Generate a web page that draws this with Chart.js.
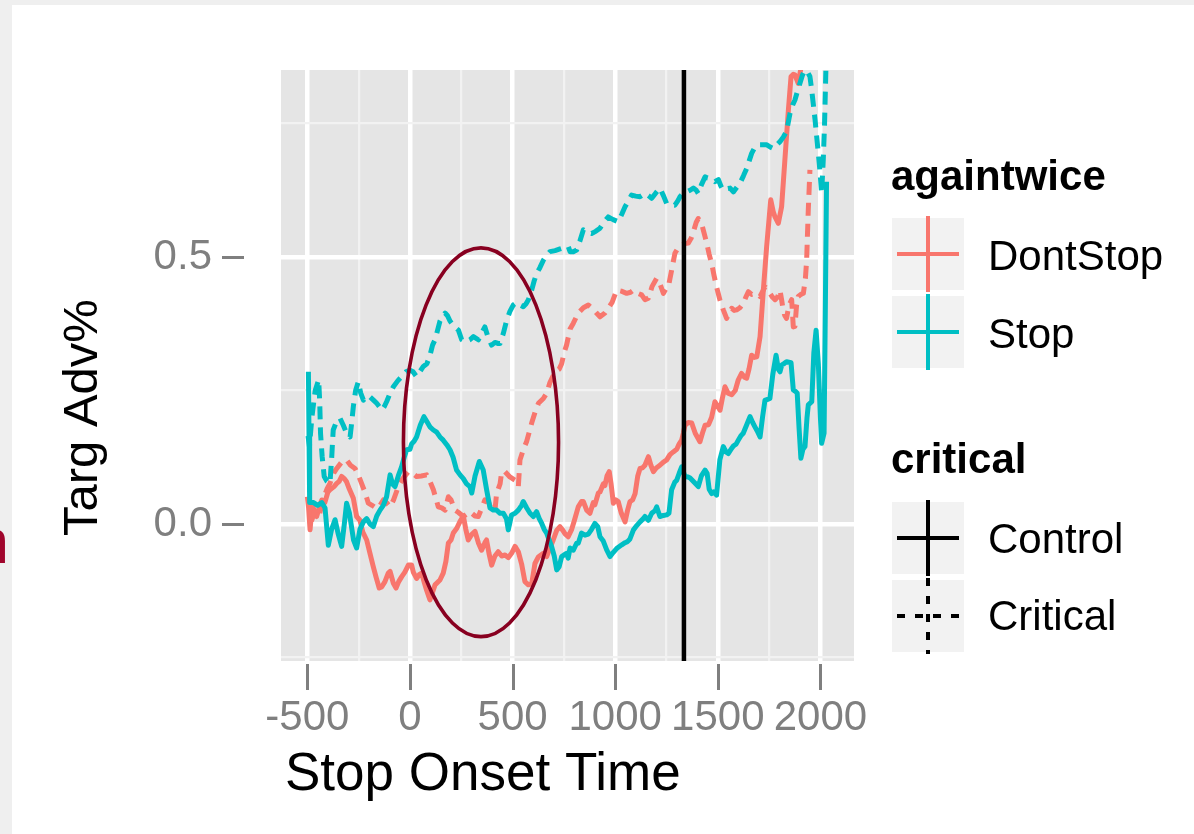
<!DOCTYPE html>
<html>
<head>
<meta charset="utf-8">
<script src="https://cdn.jsdelivr.net/npm/chart.js@4.4.1/dist/chart.umd.min.js"></script>
<style>
  html, body { margin: 0; padding: 0; }
  body { width: 1194px; height: 834px; background: #efefef; position: relative; overflow: hidden;
         font-family: "Liberation Sans", Arial, sans-serif; }
  #card { position: absolute; left: 12px; top: 5px; right: 0; bottom: 0; background: #fff; }
  #edge { position: absolute; left: -26px; top: 510px; font-size: 63px; line-height: 63px; color: #a0052c; }
  #plot { position: absolute; left: 0; top: 0; }
</style>
</head>
<body>
<div id="card"></div>
<div id="edge">n</div>
<canvas id="plot" width="1194" height="834"></canvas>
<script>
// axis ticks
var xMajorTicks = [-500, 0, 500, 1000, 1500, 2000];
var xTickLabels = ["-500", "0", "500", "1000", "1500", "2000"];
var xMinorTicks = [-250, 250, 750, 1250, 1750];
var yMajorTicks = [0, 0.5];
var yTickLabels = ["0.0", "0.5"];
var yMinorTicks = [-0.25, 0.25, 0.75];

// againtwice = DontStop, critical = Control (solid)
var dontStopControlT = [-500,-494,-487,-480,-474,-465,-455,-443,-430,-415,-400,-390,-370,-357,-345,-333,-320,-309,-295,-276,-260,-244,-230,-211,-195,-179,-165,-150,-138,-122,-106,-97,-81,-68,-55,-41,-25,-8,8,16,32,45,57,70,81,97,110,122,146,162,175,187,200,211,228,244,260,272,284,300,317,333,349,365,373,385,398,414,430,447,463,479,495,512,528,544,560,577,593,609,625,650,666,682,698,715,731,745,755,771,788,800,820,836,845,861,877,893,901,918,926,942,950,960,971,980,991,1003,1015,1030,1048,1060,1072,1085,1097,1110,1121,1133,1145,1162,1174,1186,1200,1218,1235,1251,1267,1283,1300,1312,1324,1332,1340,1356,1373,1390,1413,1425,1438,1455,1470,1486,1500,1511,1522,1535,1550,1568,1585,1600,1616,1630,1641,1652,1665,1678,1690,1706,1722,1738,1758,1770,1779,1795,1811,1827,1844,1857,1868,1876,1892,1908,1925];
var dontStopControlV = [0.051,0.03,-0.011,0.02,0.035,0.02,0.014,0.03,0.045,0.04,0.06,0.064,0.07,0.076,0.08,0.089,0.085,0.079,0.065,0.048,0.014,0.007,-0.015,-0.03,-0.055,-0.08,-0.1,-0.12,-0.118,-0.108,-0.092,-0.089,-0.111,-0.12,-0.108,-0.099,-0.09,-0.077,-0.077,-0.09,-0.102,-0.095,-0.092,-0.11,-0.124,-0.142,-0.128,-0.114,-0.105,-0.092,-0.07,-0.036,-0.03,-0.017,-0.008,0.005,0.015,-0.01,-0.03,-0.02,-0.014,-0.035,-0.049,-0.035,-0.03,-0.055,-0.077,-0.06,-0.052,-0.06,-0.058,-0.063,-0.055,-0.042,-0.052,-0.075,-0.108,-0.114,-0.112,-0.074,-0.062,-0.055,-0.061,-0.045,-0.03,-0.012,-0.005,-0.012,-0.018,-0.024,-0.01,0.005,0.032,0.042,0.042,0.026,0.02,0.04,0.036,0.058,0.06,0.075,0.072,0.09,0.098,0.075,0.039,0.045,0.042,0.02,0.004,0.025,0.042,0.045,0.057,0.09,0.104,0.105,0.11,0.126,0.11,0.098,0.105,0.11,0.116,0.12,0.13,0.135,0.14,0.15,0.157,0.17,0.185,0.19,0.189,0.17,0.154,0.17,0.185,0.186,0.2,0.229,0.22,0.213,0.235,0.257,0.245,0.242,0.25,0.27,0.282,0.275,0.273,0.29,0.316,0.312,0.313,0.351,0.438,0.519,0.607,0.585,0.575,0.563,0.594,0.682,0.775,0.838,0.842,0.841,0.825,0.86,0.95];

// DontStop, Critical (dashed)
var dontStopCriticalT = [-480,-460,-440,-420,-405,-390,-372,-357,-335,-320,-309,-290,-268,-250,-236,-220,-203,-185,-162,-146,-130,-114,-97,-80,-57,-35,-8,12,32,55,81,97,114,138,155,171,187,200,219,235,260,292,317,333,350,365,382,398,414,422,439,447,463,487,512,528,536,553,569,593,610,626,650,666,682,707,727,739,752,763,780,796,820,845,869,885,909,926,950,966,985,1007,1030,1056,1075,1089,1110,1129,1145,1162,1180,1202,1218,1235,1247,1259,1275,1291,1308,1324,1340,1356,1370,1381,1395,1405,1421,1433,1446,1458,1470,1482,1494,1510,1527,1543,1555,1568,1580,1592,1608,1624,1637,1649,1665,1681,1695,1706,1718,1730,1742,1754,1766,1779,1791,1803,1811,1819,1827,1835,1847,1860,1868,1876,1884,1892,1905,1917,1927,1933,1941,1949];
var dontStopCriticalV = [0.005,0.03,0.02,0.05,0.065,0.076,0.095,0.104,0.115,0.12,0.12,0.11,0.104,0.09,0.076,0.06,0.039,0.035,0.029,0.035,0.045,0.04,0.032,0.045,0.07,0.085,0.098,0.095,0.089,0.09,0.092,0.08,0.064,0.032,0.03,0.026,0.051,0.045,0.026,0.022,0.014,0.023,0.015,0.014,0.03,0.045,0.042,0.026,0.025,0.057,0.075,0.098,0.098,0.088,0.082,0.07,0.12,0.14,0.155,0.189,0.21,0.226,0.235,0.245,0.265,0.285,0.29,0.3,0.322,0.335,0.365,0.376,0.395,0.405,0.41,0.405,0.395,0.388,0.395,0.404,0.415,0.438,0.436,0.432,0.434,0.438,0.432,0.429,0.42,0.423,0.445,0.46,0.45,0.432,0.44,0.444,0.475,0.507,0.518,0.522,0.525,0.526,0.535,0.547,0.565,0.572,0.563,0.545,0.526,0.505,0.488,0.465,0.444,0.42,0.401,0.385,0.395,0.404,0.4,0.401,0.405,0.413,0.425,0.435,0.43,0.432,0.43,0.426,0.435,0.444,0.44,0.432,0.425,0.42,0.425,0.438,0.42,0.4,0.39,0.385,0.41,0.42,0.369,0.37,0.41,0.426,0.43,0.432,0.46,0.494,0.588,0.663];

// Stop, Control (solid)
var stopControlT = [-495,-492,-490,-488,-470,-450,-430,-414,-398,-382,-365,-349,-333,-320,-309,-295,-275,-260,-244,-227,-211,-195,-179,-162,-146,-130,-114,-97,-85,-73,-57,-41,-28,-16,0,8,20,32,50,68,85,97,114,130,146,162,180,195,210,227,244,260,276,292,301,317,338,357,373,390,406,422,439,455,470,479,495,512,528,544,552,569,585,601,617,630,642,654,666,678,690,703,715,727,739,751,763,771,780,796,812,820,836,853,869,885,901,915,926,942,958,975,991,1007,1032,1048,1060,1072,1089,1105,1121,1137,1145,1162,1178,1194,1202,1218,1235,1251,1262,1275,1290,1300,1312,1324,1340,1355,1365,1385,1405,1420,1438,1448,1458,1470,1480,1494,1510,1527,1540,1551,1565,1576,1590,1600,1612,1624,1640,1657,1670,1681,1695,1706,1718,1730,1742,1754,1768,1784,1795,1803,1812,1822,1835,1857,1868,1880,1887,1896,1905,1915,1925,1935,1941,1958,1968,1979,1990,2000,2006,2018,2024,2030];
var stopControlV = [0.285,0.16,0.175,0.04,0.04,0.035,0.04,0.03,-0.04,-0.01,0.008,-0.02,-0.042,0.0,0.039,0.02,-0.03,-0.045,-0.01,0.004,0.01,0.0,-0.005,0.015,0.026,0.035,0.051,0.092,0.075,0.07,0.09,0.107,0.125,0.139,0.14,0.15,0.155,0.163,0.185,0.201,0.19,0.182,0.176,0.172,0.163,0.157,0.148,0.139,0.125,0.101,0.092,0.085,0.075,0.07,0.058,0.09,0.117,0.101,0.065,0.03,0.026,0.026,0.02,0.02,0.01,-0.011,0.017,0.02,0.026,0.035,0.042,0.03,0.02,0.014,0.023,0.01,0.001,-0.01,-0.017,-0.03,-0.042,-0.06,-0.086,-0.08,-0.061,-0.058,-0.055,-0.064,-0.045,-0.049,-0.036,-0.036,-0.017,-0.021,-0.019,-0.01,0.001,-0.005,-0.024,-0.032,-0.048,-0.061,-0.053,-0.046,-0.039,-0.035,-0.033,-0.028,-0.011,-0.003,0.004,0.01,0.014,0.007,0.02,0.025,0.032,0.014,0.016,0.017,0.02,0.064,0.078,0.082,0.095,0.107,0.089,0.088,0.086,0.078,0.07,0.09,0.101,0.095,0.065,0.057,0.06,0.054,0.12,0.145,0.135,0.132,0.14,0.146,0.15,0.157,0.165,0.17,0.185,0.201,0.19,0.182,0.172,0.163,0.2,0.232,0.233,0.235,0.28,0.316,0.29,0.285,0.298,0.3,0.304,0.302,0.251,0.248,0.245,0.18,0.123,0.14,0.145,0.2,0.223,0.229,0.32,0.363,0.3,0.2,0.151,0.17,0.4,0.641];

// Stop, Critical (dashed)
var stopCriticalT = [-497,-490,-478,-462,-445,-440,-436,-428,-418,-405,-390,-386,-382,-378,-374,-360,-341,-325,-309,-292,-284,-276,-265,-252,-240,-227,-210,-195,-178,-162,-150,-138,-125,-114,-97,-81,-60,-41,-20,0,15,32,48,65,82,97,110,122,134,146,160,171,183,195,215,236,252,268,292,309,333,349,365,380,398,414,430,439,455,470,487,503,520,536,552,565,577,593,605,617,633,650,666,682,707,731,755,771,780,796,812,828,845,865,885,905,926,945,966,990,1015,1032,1048,1064,1080,1100,1121,1145,1162,1178,1198,1218,1235,1251,1270,1291,1305,1316,1332,1348,1365,1381,1395,1405,1420,1438,1450,1462,1474,1486,1503,1515,1527,1545,1560,1576,1592,1608,1625,1641,1653,1665,1680,1698,1718,1739,1755,1771,1787,1803,1820,1835,1845,1852,1865,1876,1888,1900,1912,1925,1938,1949,1957,1965,1974,1982,1990,1998,2006,2014,2020,2026,2030];
var stopCriticalV = [0.165,0.145,0.2,0.25,0.27,0.23,0.17,0.126,0.089,0.08,0.076,0.1,0.12,0.15,0.176,0.19,0.198,0.185,0.17,0.163,0.19,0.22,0.25,0.266,0.245,0.232,0.24,0.238,0.232,0.226,0.22,0.213,0.22,0.229,0.245,0.257,0.268,0.276,0.285,0.288,0.285,0.276,0.285,0.295,0.3,0.315,0.335,0.345,0.362,0.38,0.39,0.395,0.39,0.38,0.37,0.363,0.345,0.341,0.345,0.351,0.345,0.357,0.369,0.35,0.335,0.34,0.338,0.338,0.357,0.38,0.398,0.41,0.415,0.41,0.407,0.412,0.42,0.438,0.455,0.469,0.48,0.494,0.503,0.51,0.512,0.515,0.518,0.52,0.51,0.51,0.513,0.53,0.551,0.546,0.544,0.548,0.554,0.565,0.575,0.57,0.566,0.58,0.594,0.605,0.616,0.614,0.613,0.619,0.615,0.61,0.62,0.629,0.615,0.6,0.598,0.597,0.605,0.613,0.62,0.622,0.625,0.629,0.625,0.619,0.635,0.65,0.648,0.647,0.645,0.641,0.645,0.633,0.625,0.628,0.629,0.622,0.63,0.638,0.652,0.666,0.68,0.694,0.705,0.71,0.71,0.71,0.706,0.703,0.71,0.716,0.725,0.735,0.755,0.769,0.785,0.794,0.81,0.825,0.84,0.85,0.846,0.838,0.815,0.788,0.757,0.725,0.694,0.66,0.619,0.682,0.745,0.838,0.9];

var stopOnset = 1335;              // vertical reference line
var ellipseCenter = [346, 0.153];  // highlighted region
var ellipseRadius = [378, 0.364];

var RED = "#F8766D", CYAN = "#00BFC4", MAROON = "#880020", GREY = "#7f7f7f";
var FONT = '"Liberation Sans", Arial, sans-serif';

function toPoints(ts, vs) {
  return ts.map(function(t, i) { return { x: t, y: vs[i] }; });
}

function lineSet(label, ts, vs, color, dashed, order) {
  return {
    label: label,
    data: toPoints(ts, vs),
    borderColor: color,
    borderWidth: 5,
    borderDash: dashed ? [13, 8] : [],
    borderJoinStyle: "round",
    pointRadius: 0,
    tension: 0,
    fill: false,
    order: order
  };
}

function drawKey(c, top, color, dashed) {
  c.save();
  c.fillStyle = "#f2f2f2";
  c.fillRect(892, top, 72, 72);
  c.strokeStyle = color;
  c.lineWidth = 4;
  c.setLineDash(dashed ? [8, 10] : []);
  c.beginPath(); c.moveTo(897, top + 36); c.lineTo(959, top + 36); c.stroke();
  c.beginPath(); c.moveTo(928, top - 2); c.lineTo(928, top + 74); c.stroke();
  c.restore();
}

var ggExtras = {
  id: "ggExtras",
  beforeDraw: function(chart) {
    var a = chart.chartArea, c = chart.ctx;
    c.save();
    c.fillStyle = "#e5e5e5";
    c.fillRect(a.left, a.top, a.right - a.left, a.bottom - a.top);
    c.restore();
  },
  afterDatasetsDraw: function(chart) {
    var xs = chart.scales.x, ys = chart.scales.y, c = chart.ctx;
    var cx = xs.getPixelForValue(ellipseCenter[0]);
    var cy = ys.getPixelForValue(ellipseCenter[1]);
    var rx = xs.getPixelForValue(ellipseCenter[0] + ellipseRadius[0]) - cx;
    var ry = cy - ys.getPixelForValue(ellipseCenter[1] + ellipseRadius[1]);
    c.save();
    c.strokeStyle = MAROON;
    c.lineWidth = 3.6;
    c.beginPath();
    c.ellipse(cx, cy, rx, ry, 0, 0, 2 * Math.PI);
    c.stroke();
    c.restore();
  },
  afterDraw: function(chart) {
    var xs = chart.scales.x, ys = chart.scales.y, c = chart.ctx;
    c.save();
    // tick marks
    c.strokeStyle = GREY;
    c.lineWidth = 3;
    yMajorTicks.forEach(function(v) {
      var py = Math.round(ys.getPixelForValue(v)) + 0.5;
      c.beginPath(); c.moveTo(222, py); c.lineTo(244, py); c.stroke();
    });
    xMajorTicks.forEach(function(v) {
      var px = Math.round(xs.getPixelForValue(v)) + 0.5;
      c.beginPath(); c.moveTo(px, 664); c.lineTo(px, 690); c.stroke();
    });
    // axis titles
    c.fillStyle = "#000";
    c.font = "53px " + FONT;
    c.textAlign = "left";
    c.textBaseline = "alphabetic";
    c.fillText("Stop Onset Time", 285, 790);
    c.save();
    c.translate(97, 536);
    c.rotate(-Math.PI / 2);
    c.font = "49px " + FONT;
    c.fillText("Targ Adv%", 0, 0);
    c.restore();
    // legend
    c.font = "bold 42px " + FONT;
    c.fillText("againtwice", 891, 190);
    c.fillText("critical", 891, 473);
    drawKey(c, 218, RED, false);
    drawKey(c, 296, CYAN, false);
    drawKey(c, 502, "#000", false);
    drawKey(c, 580, "#000", true);
    c.font = "42px " + FONT;
    c.fillText("DontStop", 988, 270);
    c.fillText("Stop", 988, 348);
    c.fillText("Control", 988, 553);
    c.fillText("Critical", 988, 630);
    c.restore();
  }
};

function isMinor(list, v) {
  return list.some(function(m) { return Math.abs(m - v) < 1e-9; });
}

new Chart(document.getElementById("plot"), {
  type: "line",
  data: {
    datasets: [
      {
        label: "onset",
        data: [{ x: stopOnset, y: -1 }, { x: stopOnset, y: 2 }],
        borderColor: "#000",
        borderWidth: 4.5,
        pointRadius: 0,
        order: 0
      },
      lineSet("Stop Critical", stopCriticalT, stopCriticalV, CYAN, true, 1),
      lineSet("Stop Control", stopControlT, stopControlV, CYAN, false, 2),
      lineSet("DontStop Critical", dontStopCriticalT, dontStopCriticalV, RED, true, 3),
      lineSet("DontStop Control", dontStopControlT, dontStopControlV, RED, false, 4)
    ]
  },
  options: {
    responsive: false,
    animation: false,
    layout: { padding: { left: 0, top: 70, right: 340, bottom: 0 } },
    plugins: { legend: { display: false }, tooltip: { enabled: false } },
    scales: {
      x: {
        type: "linear",
        min: -628.6,
        max: 2163.8,
        afterBuildTicks: function(scale) {
          scale.ticks = xMajorTicks.concat(xMinorTicks).sort(function(a, b) { return a - b; })
            .map(function(v) { return { value: v }; });
        },
        afterFit: function(scale) {
          scale.height = 173;
          scale.paddingLeft = 0;
          scale.paddingRight = 0;
        },
        border: { display: false },
        grid: {
          drawTicks: false,
          color: function(ctx) { return isMinor(xMinorTicks, ctx.tick.value) ? "#f2f2f2" : "#ffffff"; },
          lineWidth: function(ctx) { return isMinor(xMinorTicks, ctx.tick.value) ? 2.2 : 4.5; }
        },
        ticks: {
          autoSkip: false,
          maxRotation: 0,
          minRotation: 0,
          padding: 32,
          color: GREY,
          font: { family: FONT, size: 42 },
          callback: function(v) {
            var i = xMajorTicks.indexOf(v);
            return i < 0 ? "" : xTickLabels[i];
          }
        }
      },
      y: {
        type: "linear",
        min: -0.2566,
        max: 0.8502,
        afterBuildTicks: function(scale) {
          scale.ticks = yMajorTicks.concat(yMinorTicks).sort(function(a, b) { return a - b; })
            .map(function(v) { return { value: v }; });
        },
        afterFit: function(scale) {
          scale.width = 281;
          scale.paddingTop = 0;
          scale.paddingBottom = 0;
        },
        border: { display: false },
        grid: {
          drawTicks: false,
          color: function(ctx) { return isMinor(yMinorTicks, ctx.tick.value) ? "#f2f2f2" : "#ffffff"; },
          lineWidth: function(ctx) { return isMinor(yMinorTicks, ctx.tick.value) ? 2.2 : 4.5; }
        },
        ticks: {
          autoSkip: false,
          padding: 69,
          color: GREY,
          font: { family: FONT, size: 42 },
          callback: function(v) {
            var i = yMajorTicks.indexOf(v);
            return i < 0 ? "" : yTickLabels[i];
          }
        }
      }
    }
  },
  plugins: [ggExtras]
});
</script>
</body>
</html>
